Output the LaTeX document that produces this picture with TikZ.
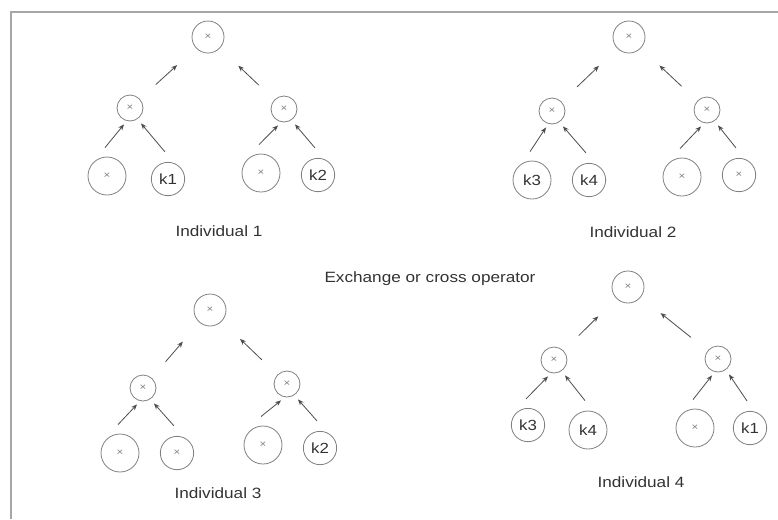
\documentclass[tikz,border=0pt]{standalone}
\usepackage{fontspec}
\setmainfont[FakeStretch=1.15]{Liberation Sans}
\usetikzlibrary{arrows.meta,calc}
\newcommand\xmark{{\fontsize{7.5}{7.5}\selectfont\color{black!50}×}}
\begin{document}
\begin{tikzpicture}[x=0.75pt,y=-0.75pt,
 every node/.style={inner sep=0pt},
 circ/.style={draw=black!50, line width=0.6pt, circle, text=black!80, font=\fontsize{11}{13}\selectfont},
 leafb/.style={circ, minimum size=28.5pt},
 leafs/.style={circ, minimum size=25pt},
 midn/.style={circ, minimum size=19.5pt},
 rootn/.style={circ, minimum size=24pt},
 lbl/.style={text=black!80, font=\fontsize{11.2}{13}\selectfont},
 con/.style={draw=black!70, line width=0.6pt, -{Stealth[length=4.5pt,width=3.6pt]}},
 ra/.style={con, shorten <=16pt, shorten >=19pt}]
\useasboundingbox (0,0) rectangle (778,519);
\draw[black!35, line width=1.5pt] (11,519) -- (11,12) -- (778,12);
% Tree 1
\node[rootn] (r1) at (208,37) {\xmark};
\node[midn] (a1) at (130,108) {\xmark};
\node[midn] (b1) at (284,109) {\xmark};
\node[leafb] (al1) at (107,176) {\xmark};
\node[leafs] (ar1) at (168,179) {k1};
\node[leafb] (bl1) at (261,173) {\xmark};
\node[leafs] (br1) at (318,175) {k2};
\node[lbl] (t1) at (219,231) {Individual 1};
% Tree 2
\node[rootn] (r2) at (629,37) {\xmark};
\node[midn] (a2) at (552,111) {\xmark};
\node[midn] (b2) at (707,110) {\xmark};
\node[leafb] (al2) at (532,180) {k3};
\node[leafs] (ar2) at (589,180) {k4};
\node[leafb] (bl2) at (682,177) {\xmark};
\node[leafs] (br2) at (739,175) {\xmark};
\node[lbl] (t2) at (633,232) {Individual 2};
% middle text
\node[lbl] (ex) at (430,279) {Exchange or cross operator};
% Tree 3
\node[rootn] (r3) at (210,310) {\xmark};
\node[midn] (a3) at (143,388) {\xmark};
\node[midn] (b3) at (287,384) {\xmark};
\node[leafb] (al3) at (120,453) {\xmark};
\node[leafs] (ar3) at (177,453) {\xmark};
\node[leafb] (bl3) at (263,445) {\xmark};
\node[leafs] (br3) at (320,448) {k2};
\node[lbl] (t3) at (218,493) {Individual 3};
% Tree 4
\node[rootn] (r4) at (628,287) {\xmark};
\node[midn] (a4) at (554,360) {\xmark};
\node[midn] (b4) at (718,359) {\xmark};
\node[leafs] (al4) at (528,425) {k3};
\node[leafb] (ar4) at (588,430) {k4};
\node[leafb] (bl4) at (695,428) {\xmark};
\node[leafs] (br4) at (750,428) {k1};
\node[lbl] (t4) at (641,482) {Individual 4};
% connectors
\foreach \i in {1,...,4} {
  \draw[ra] (a\i) -- (r\i);
  \draw[ra] (b\i) -- (r\i);
  \draw[con] ($(al\i.north)+(-2,-9)$) -- ($(a\i.south)+(-6,3)$);
  \draw[con] ($(ar\i.north)+(-3,-10)$) -- ($(a\i.south)+(11,2)$);
  \draw[con] ($(bl\i.north)+(-2,-9)$) -- ($(b\i.south)+(-6,3)$);
  \draw[con] ($(br\i.north)+(-3,-10)$) -- ($(b\i.south)+(11,2)$);
}
\end{tikzpicture}
\end{document}
